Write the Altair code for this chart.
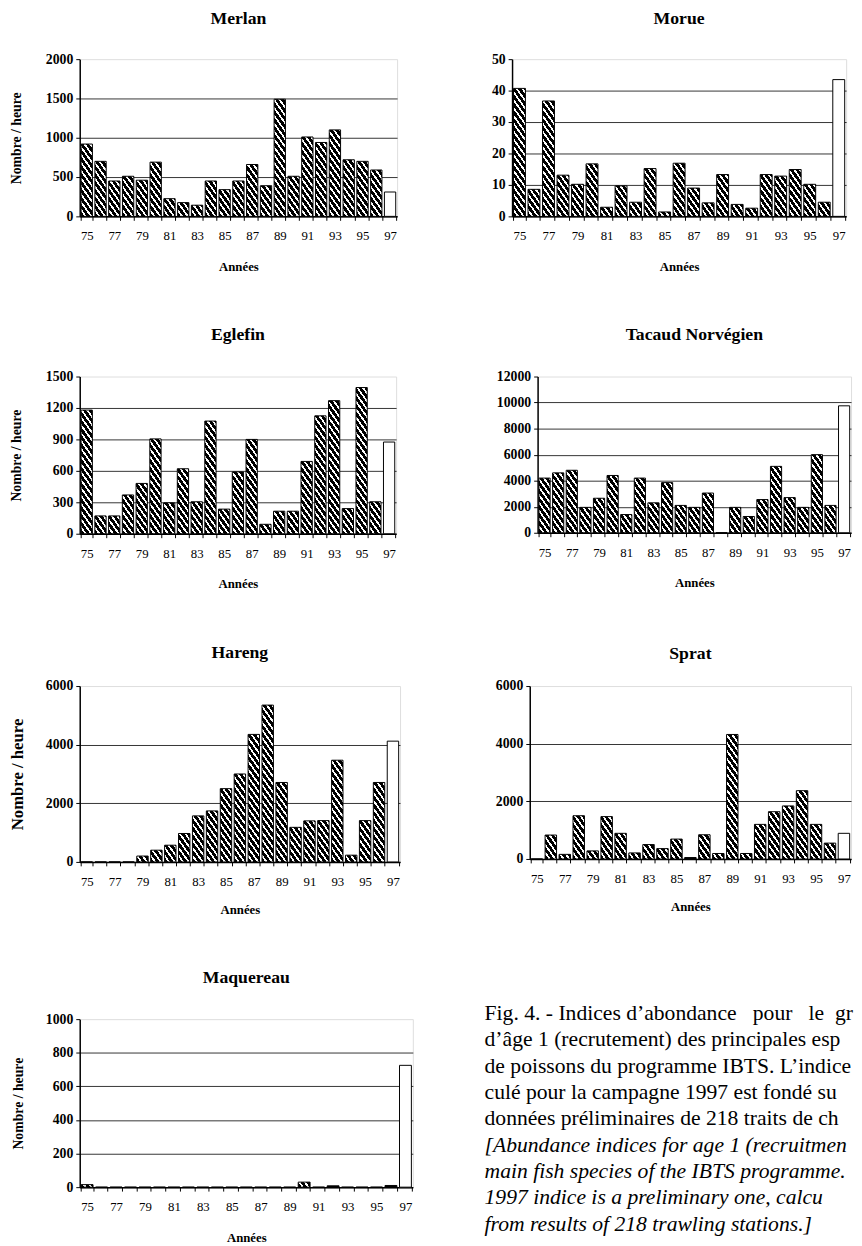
import altair as alt

SERIF = "Liberation Serif"

years = [str(y) for y in range(75, 98)]

merlan = [920, 700, 450, 510, 460, 690, 225, 175, 142, 450, 340, 450, 660, 390,
          1490, 510, 1010, 940, 1100, 720, 700, 590, 310]
morue = [40.7, 8.6, 36.7, 13.1, 10.2, 16.7, 2.9, 9.7, 4.5, 15.2, 1.4, 16.9, 9.0,
         4.3, 13.3, 3.8, 2.6, 13.3, 12.8, 14.9, 10.2, 4.5, 43.5]
eglefin = [1180, 170, 170, 370, 480, 905, 295, 620, 305, 1075, 235, 590, 900, 90,
           215, 215, 690, 1125, 1270, 240, 1395, 305, 875]
tacaud = [4200, 4600, 4800, 1950, 2650, 4400, 1400, 4200, 2300, 3850, 2100, 1950,
          3050, 0, 1950, 1250, 2550, 5100, 2700, 1950, 6000, 2100, 9750]
hareng = [0, 0, 0, 0, 200, 400, 570, 970, 1570, 1740, 2500, 3000, 4350, 5350,
          2710, 1180, 1400, 1410, 3470, 230, 1410, 2710, 4120]
sprat = [0, 830, 160, 1500, 280, 1470, 890, 210, 500, 360, 690, 50, 840, 190,
         4320, 190, 1200, 1640, 1840, 2370, 1200, 550, 890]
maquereau = [15, 0, 0, 0, 0, 0, 0, 0, 0, 0, 0, 0, 0, 0, 0, 30, 0, 8, 0, 0, 0, 10, 725]

# caption lines as visible in the (right-cropped) figure
caption_fr = [
    "Fig. 4. - Indices d\u2019abondance\u00a0\u00a0 pour\u00a0\u00a0 le\u00a0 gr",
    "d\u2019âge 1 (recrutement) des principales esp",
    "de poissons du programme IBTS. L\u2019indice",
    "culé pour la campagne 1997 est fondé su",
    "données préliminaires de 218 traits de ch",
]
caption_en = [
    "[Abundance indices for age 1 (recruitmen",
    "main fish species of the IBTS programme.",
    "1997 indice is a preliminary one, calcu",
    "from results of 218 trawling stations.]",
]

N = len(years)
PAD_IN = 0.18
PAD_OUT = 0.1


def hatch_fill(w, h, slope=1.4, period=8.0, white=0.38):
    """Diagonal black/white hatch as an SVG bounding-box linear gradient."""
    if h < 2:
        return "black"
    L = slope * w + h
    s = L / (slope * slope * w * w + h * h)
    stops = [{"offset": 0, "color": "black"}]
    k = 0
    while True:
        a = (k * period + period * (1 - white)) / L
        b = ((k + 1) * period) / L
        if a >= 1:
            break
        b = min(b, 1.0)
        a, b = round(a, 4), round(b, 4)
        stops += [
            {"offset": a, "color": "black"},
            {"offset": a, "color": "white"},
            {"offset": b, "color": "white"},
            {"offset": b, "color": "black"},
        ]
        k += 1
    stops.append({"offset": 1, "color": "black"})
    return {"gradient": "linear", "x1": 0, "y1": 1,
            "x2": round(s * slope * w, 5), "y2": round(1 - s * h, 5),
            "stops": stops}


def panel(title, vals, ymax, ystep, W, H, title_offset,
          ytitle=None, ytitle_size=14, ytitle_pad=20, xtitle_pad=18):
    step = W / (N - PAD_IN + 2 * PAD_OUT)
    bw = step * (1 - PAD_IN)
    recs = []
    for y, v in zip(years, vals):
        fill = "white" if y == years[-1] else hatch_fill(bw, v / ymax * H)
        recs.append({"year": y, "value": v, "fill": fill})

    yaxis = dict(
        values=list(range(0, ymax + 1, ystep)), format="d",
        grid=True, gridColor="#333333", gridWidth=1,
        gridOpacity={"condition": {"test": f"datum.value >= {ymax}", "value": 0}, "value": 1},
        domainColor="black", domainWidth=1.5,
        tickColor="black", tickSize=4, tickWidth=1,
        labelFont=SERIF, labelFontSize=14, labelFontWeight="bold",
        labelColor="black", labelPadding=3,
    )
    if ytitle:
        yaxis.update(title=ytitle, titleFont=SERIF, titleFontSize=ytitle_size,
                     titleFontWeight="bold", titleColor="black",
                     titlePadding=ytitle_pad)
    else:
        yaxis["title"] = None

    xaxis = alt.Axis(
        title="Années", titleFont=SERIF, titleFontSize=13, titleFontWeight="bold",
        titleColor="black", titlePadding=xtitle_pad,
        labelExpr="toNumber(datum.value) % 2 == 1 ? datum.label : ''",
        labelAngle=0, labelFont=SERIF, labelFontSize=13, labelColor="black",
        labelPadding=10,
        tickBand="extent", tickColor="black", tickSize=4, tickWidth=1,
        domainColor="black", domainWidth=1.5, grid=False,
    )

    return alt.Chart(
        alt.Data(values=recs),
        title=alt.Title(title, font=SERIF, fontSize=18, fontWeight="bold",
                        color="black", frame="group", anchor="middle",
                        offset=title_offset),
    ).mark_bar(stroke="black", strokeWidth=1).encode(
        x=alt.X("year:N", sort=years,
                scale=alt.Scale(paddingInner=PAD_IN, paddingOuter=PAD_OUT),
                axis=xaxis),
        y=alt.Y("value:Q", stack=False,
                scale=alt.Scale(domain=[0, ymax], nice=False, zero=True),
                axis=alt.Axis(**yaxis)),
        fill=alt.Fill("fill:N", scale=None),
    ).properties(width=W, height=H)


YT = "Nombre / heure"

p_merlan = panel("Merlan", merlan, 2000, 500, 323, 160, 25, ytitle=YT, ytitle_pad=22)
p_morue = panel("Morue", morue, 50, 10, 340, 160, 25)
p_eglefin = panel("Eglefin", eglefin, 1500, 300, 322, 160, 26, ytitle=YT, ytitle_pad=22)
p_tacaud = panel("Tacaud Norvégien", tacaud, 12000, 2000, 319, 159, 26)
p_hareng = panel("Hareng", hareng, 6000, 2000, 326, 179, 18, ytitle=YT,
                 ytitle_size=17, ytitle_pad=19, xtitle_pad=15)
p_sprat = panel("Sprat", sprat, 6000, 2000, 327, 176, 17, xtitle_pad=15)
p_maq = panel("Maquereau", maquereau, 1000, 200, 339, 171, 26, ytitle=YT, ytitle_pad=20)

# caption block (its view origin is aligned with the Maquereau plot top)
cap_recs = [{"line": i, "text": t, "lang": "fr"} for i, t in enumerate(caption_fr)]
cap_recs += [{"line": i + len(caption_fr), "text": t, "lang": "en"}
             for i, t in enumerate(caption_en)]
CAP_H = 171
LINE = 26.8
FIRST = -6
cap_base = alt.Chart(alt.Data(values=cap_recs)).encode(
    x=alt.value(0),
    y=alt.Y("line:Q", axis=None,
            scale=alt.Scale(domain=[-FIRST / LINE, (CAP_H - FIRST) / LINE],
                            reverse=True, nice=False, zero=False)),
    text="text:N",
)
cap_fr = cap_base.transform_filter("datum.lang == 'fr'").mark_text(
    align="left", baseline="middle", font=SERIF, fontSize=22, color="black")
cap_en = cap_base.transform_filter("datum.lang == 'en'").mark_text(
    align="left", baseline="middle", font=SERIF, fontSize=22, color="black",
    fontStyle="italic")
caption = alt.layer(cap_fr, cap_en).properties(
    width=360, height=CAP_H, view=alt.ViewBackground(stroke="transparent"))

row1 = alt.hconcat(p_merlan, p_morue, spacing=94)
row2 = alt.hconcat(p_eglefin, p_tacaud, spacing=100)
row3 = alt.hconcat(p_hareng, p_sprat, spacing=95)
row4 = alt.hconcat(p_maq, caption, spacing=71)

chart = alt.vconcat(row1, row2, row3, row4, spacing=52).properties(
    padding={"left": 0, "top": -10, "right": 0, "bottom": 0}
).configure_view(
    stroke="#9a9a9a", strokeDash=[3, 2], strokeWidth=1
).configure(background="white")

chart.save("out.html", embed_options={"renderer": "svg", "actions": False})
